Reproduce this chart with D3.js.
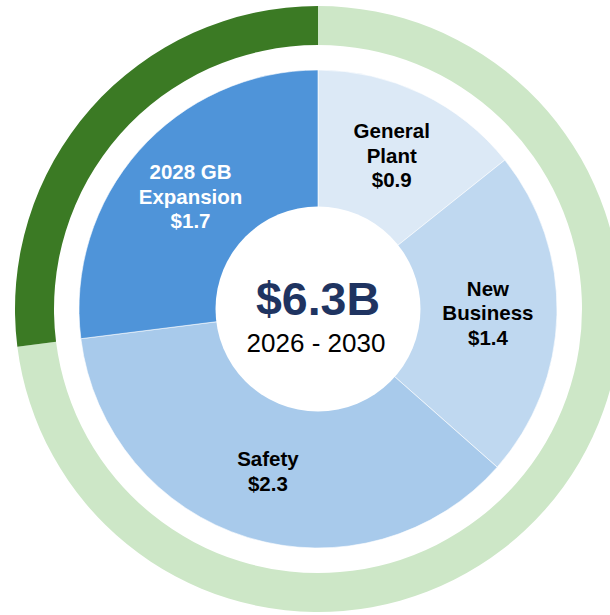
<!DOCTYPE html>
<html>
<head>
<meta charset="utf-8">
<script src="https://cdn.jsdelivr.net/npm/d3@7"></script>
<style>
  html, body { margin: 0; padding: 0; background: #fff; }
  svg { display: block; }
</style>
</head>
<body>
<svg id="chart" width="610" height="615"></svg>
<script>
// ---- data ----
const categories = ["General Plant", "New Business", "Safety", "2028 GB Expansion"];
const labelLines = [["General", "Plant"], ["New", "Business"], ["Safety"], ["2028 GB", "Expansion"]];
const values = [0.9, 1.4, 2.3, 1.7];
const valueLabels = ["$0.9", "$1.4", "$2.3", "$1.7"];
const sliceColors = ["#DCE9F6", "#BFD8F0", "#A8CAEB", "#4F94D9"];
const labelColors = ["#000000", "#000000", "#000000", "#FFFFFF"];
const ringCategories = ["Other", "2028 GB Expansion"];
const ringValues = [4.6, 1.7];
const ringColors = ["#CDE7C7", "#3B7A24"];
const totalLabel = "$6.3B";
const periodLabel = "2026 - 2030";

// ---- layout ----
const svg = d3.select("#chart");
const cx = 318, cy = 309;
const g = svg.append("g").attr("transform", `translate(${cx},${cy})`);

const pie = d3.pie().sort(null).value(d => d);

// outer ring
const ringArc = d3.arc().innerRadius(264).outerRadius(303);
g.selectAll("path.ring")
  .data(pie(ringValues))
  .join("path")
  .attr("class", "ring")
  .attr("d", ringArc)
  .attr("fill", (d, i) => ringColors[i]);

// inner donut
const arc = d3.arc().innerRadius(0).outerRadius(239);
const arcs = pie(values);
g.selectAll("path.slice")
  .data(arcs)
  .join("path")
  .attr("class", "slice")
  .attr("d", arc)
  .attr("fill", (d, i) => sliceColors[i])
  .attr("stroke", "#ffffff")
  .attr("stroke-width", 0.6);

// center hole
g.append("circle").attr("r", 102.5).attr("fill", "#ffffff");

// slice labels
const labelR = 170;
arcs.forEach((d, i) => {
  const mid = (d.startAngle + d.endAngle) / 2;
  const x = labelR * Math.sin(mid);
  const y = -labelR * Math.cos(mid);
  const lines = labelLines[i].concat([valueLabels[i]]);
  const n = lines.length;
  const t = g.append("text")
    .attr("text-anchor", "middle")
    .attr("font-family", "Liberation Sans, Arial, sans-serif")
    .attr("font-weight", "bold")
    .attr("font-size", 20.5)
    .attr("fill", labelColors[i]);
  lines.forEach((ln, j) => {
    t.append("tspan")
      .attr("x", x)
      .attr("y", y + (j - (n - 1) / 2) * 24.5 + 7)
      .text(ln);
  });
});

// center text
g.append("text")
  .attr("x", 0).attr("y", 6)
  .attr("text-anchor", "middle")
  .attr("font-family", "Liberation Sans, Arial, sans-serif")
  .attr("font-weight", "bold")
  .attr("font-size", 46.5)
  .attr("fill", "#1F3461")
  .text(totalLabel);
g.append("text")
  .attr("x", -2).attr("y", 43)
  .attr("text-anchor", "middle")
  .attr("font-family", "Liberation Sans, Arial, sans-serif")
  .attr("font-size", 26)
  .attr("fill", "#000000")
  .text(periodLabel);
</script>
</body>
</html>
